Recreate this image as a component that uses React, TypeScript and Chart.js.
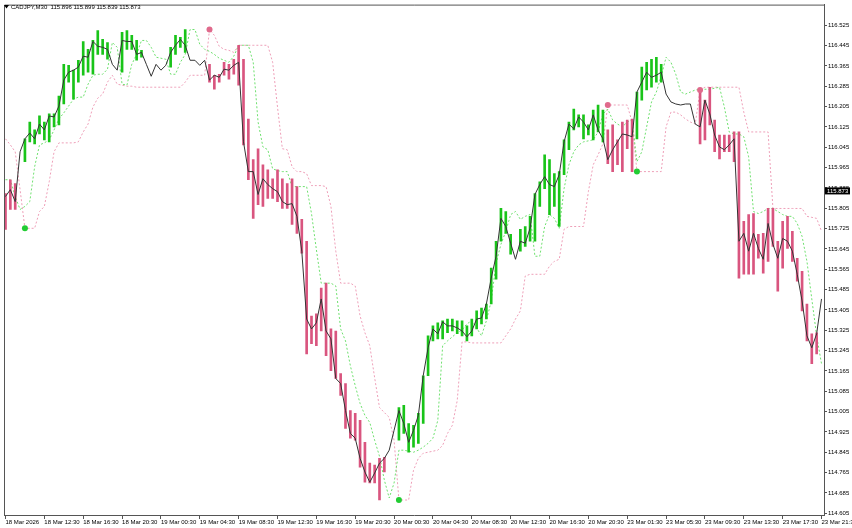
import React, { useEffect, useRef } from "react";
import { Chart, registerables } from "chart.js";

Chart.register(...registerables);

const symbolTitle = "CADJPY,M30";
const headerPrices = ["115.896", "115.899", "115.839", "115.873"];
const lastPrice = 115.873;

const xTickLabels = [
  "18 Mar 2026", "18 Mar 12:30", "18 Mar 16:30", "18 Mar 20:30", "19 Mar 00:30", "19 Mar 04:30",
  "19 Mar 08:30", "19 Mar 12:30", "19 Mar 16:30", "19 Mar 20:30", "20 Mar 00:30", "20 Mar 04:30",
  "20 Mar 08:30", "20 Mar 12:30", "20 Mar 16:30", "20 Mar 20:30", "23 Mar 01:30", "23 Mar 05:30",
  "23 Mar 09:30", "23 Mar 13:30", "23 Mar 17:30", "23 Mar 21:30",
];
const barsPerLabel = 8;

const yTicks = [
  114.605, 114.685, 114.765, 114.845, 114.925, 115.005, 115.085, 115.165, 115.245, 115.325,
  115.405, 115.485, 115.565, 115.645, 115.725, 115.805, 115.885, 115.965, 116.045, 116.125,
  116.205, 116.285, 116.365, 116.445, 116.525,
];

const closeValues = [
  115.851, 115.878, 115.831, 116.027, 116.078, 116.101, 116.078, 116.136, 116.113, 116.168,
  116.164, 116.207, 116.309, 116.340, 116.348, 116.360, 116.403, 116.399, 116.461, 116.442,
  116.438, 116.430, 116.371, 116.348, 116.465, 116.461, 116.461, 116.410, 116.418, 116.371,
  116.324, 116.371, 116.348, 116.367, 116.418, 116.446, 116.469, 116.446, 116.387, 116.387,
  116.367, 116.387, 116.309, 116.328, 116.320, 116.352, 116.348, 116.367, 116.379, 116.066,
  115.949, 115.949, 115.859, 115.921, 115.898, 115.882, 115.870, 115.831, 115.819, 115.823,
  115.773, 115.636, 115.369, 115.330, 115.354, 115.448, 115.322, 115.291, 115.135, 115.115,
  115.009, 114.919, 114.900, 114.821, 114.767, 114.727, 114.763, 114.802, 114.821, 114.853,
  114.931, 115.009, 114.958, 114.884, 114.931, 114.990, 115.146, 115.256, 115.330, 115.311,
  115.358, 115.342, 115.342, 115.334, 115.322, 115.299, 115.322, 115.369, 115.373, 115.428,
  115.530, 115.616, 115.765, 115.733, 115.667, 115.604, 115.675, 115.667, 115.726, 115.859,
  115.898, 115.929, 115.898, 115.890, 115.937, 116.066, 116.136, 116.117, 116.164, 116.144,
  116.113, 116.172, 116.113, 116.078, 115.996, 116.035, 116.066, 116.097, 116.093, 116.086,
  116.262, 116.301, 116.340, 116.320, 116.328, 116.340, 116.254, 116.223, 116.215, 116.211,
  116.215, 116.215, 116.136, 116.125, 116.230, 116.176, 116.093, 116.046, 116.035, 116.054,
  116.078, 115.675, 115.706, 115.636, 115.706, 115.647, 115.604, 115.745, 115.663, 115.608,
  115.686, 115.675, 115.636, 115.545, 115.440, 115.303, 115.256, 115.311, 115.448,
];

const highValues: (number | null)[] = [
  115.863, 115.917, 115.902, null, 116.078, 116.144, 116.113, 116.168, 116.144, 116.176,
  116.176, 116.246, 116.371, 116.367, 116.348, 116.387, 116.461, 116.430, 116.465, 116.504,
  116.469, 116.457, null, null, 116.497, 116.504, 116.485, 116.465, 116.426, null,
  null, null, null, null, 116.438, 116.485, 116.477, 116.508, null, null,
  null, null, 116.371, 116.328, 116.332, 116.379, 116.371, 116.391, 116.446, 116.391,
  116.156, 115.996, 116.039, 115.976, 115.956, 115.921, 115.956, 115.921, 115.902, 115.921,
  115.890, 115.761, 115.675, 115.381, 115.389, 115.491, 115.510, 115.330, 115.322, 115.154,
  115.115, 115.009, 114.998, 114.970, 114.884, 114.802, 114.794, 114.821, 114.825, null,
  null, 115.021, 115.029, 114.958, 114.951, 114.998, 115.146, 115.303, 115.342, 115.354,
  115.362, 115.369, 115.369, 115.362, 115.362, 115.342, 115.369, 115.401, 115.412, 115.428,
  115.569, 115.675, 115.804, 115.792, 115.702, null, 115.722, 115.733, 115.773, 115.863,
  115.909, 116.015, 115.996, 115.941, 115.949, 116.074, 116.144, 116.195, 116.172, 116.172,
  116.133, 116.191, 116.211, 116.191, 116.113, 116.133, 116.074, 116.144, 116.152, 116.156,
  116.262, 116.360, 116.379, 116.391, 116.399, 116.371, null, null, null, null,
  null, null, null, 116.270, 116.230, 116.281, 116.152, 116.093, 116.093, 116.093,
  116.105, 116.105, 115.753, 115.780, 115.784, 115.702, 115.706, 115.804, 115.804, 115.675,
  115.753, 115.773, 115.714, 115.608, 115.557, 115.428, 115.311, 115.315, null,
];

const lowValues: (number | null)[] = [
  115.722, 115.800, 115.800, null, 115.988, 116.066, 116.058, 116.097, 116.074, 116.066,
  116.125, 116.133, 116.215, 116.301, 116.234, 116.301, 116.328, 116.340, 116.332, 116.410,
  116.410, 116.391, null, null, 116.340, 116.430, 116.430, 116.387, 116.399, null,
  null, null, null, null, 116.360, 116.410, 116.438, 116.418, null, null,
  null, null, 116.301, 116.273, 116.301, 116.328, 116.313, 116.332, 116.289, 116.054,
  115.917, 115.765, 115.819, 115.812, 115.843, 115.843, 115.831, 115.804, 115.804, 115.741,
  115.706, 115.628, 115.232, 115.272, 115.264, 115.322, 115.225, 115.166, 115.135, 115.068,
  114.939, 114.900, 114.892, 114.786, 114.727, 114.724, 114.724, 114.657, 114.767, null,
  null, 114.892, 114.919, 114.845, 114.865, 114.880, 114.958, 115.146, 115.283, 115.291,
  115.291, 115.315, 115.322, 115.311, 115.303, 115.283, 115.303, 115.330, 115.350, 115.369,
  115.428, 115.526, 115.675, 115.706, 115.624, null, 115.636, 115.655, 115.675, 115.675,
  115.812, 115.882, 115.780, 115.812, 115.733, 115.937, 116.035, 116.113, 116.125, 116.078,
  116.093, 116.074, 116.105, 116.066, 115.980, 115.949, 115.976, 115.949, 116.039, 115.949,
  116.078, 116.230, 116.270, 116.281, 116.301, 116.301, null, null, null, null,
  null, null, null, 116.058, 116.074, 116.133, 116.027, 115.999, 116.027, 116.027,
  115.988, 115.530, 115.545, 115.545, 115.545, 115.608, 115.549, 115.596, 115.655, 115.479,
  115.569, 115.647, 115.596, 115.518, 115.401, 115.283, 115.193, 115.232, null,
];

// inner (green dotted) trailing line
const fastLine = [
  115.917, 115.917, 115.851, 115.800, 115.812, 115.831, 115.968, 116.054, 116.062, 116.074,
  116.113, 116.156, 116.180, 116.207, 116.234, 116.242, 116.242, 116.293, 116.328, 116.332,
  116.332, 116.352, 116.457, 116.438, 116.293, 116.289, 116.371, 116.410, 116.465, 116.465,
  116.438, 116.399, 116.395, 116.391, 116.332, 116.332, 116.379, 116.410, 116.508, 116.508,
  116.450, 116.430, 116.422, 116.410, 116.395, 116.387, 116.379, 116.403, 116.446, 116.446,
  116.446, 116.379, 116.144, 116.046, 116.035, 115.960, 115.953, 115.949, 115.949, 115.890,
  115.890, 115.890, 115.890, 115.784, 115.643, 115.510, 115.510, 115.510, 115.499, 115.330,
  115.283, 115.185, 115.107, 115.037, 114.990, 114.962, 114.892, 114.829, 114.735, 114.665,
  114.724, 114.853, 114.853, 114.849, 114.845, 114.853, 114.865, 114.880, 114.900, 114.970,
  115.264, 115.283, 115.299, 115.315, 115.326, 115.350, 115.362, 115.334, 115.303, 115.362,
  115.440, 115.589, 115.663, 115.714, 115.780, 115.792, 115.761, 115.773, 115.780, 115.616,
  115.616, 115.733, 115.780, 115.765, 115.726, 115.882, 115.976, 116.027, 116.054, 116.066,
  116.070, 116.074, 116.105, 116.176, 116.195, 116.152, 116.136, 116.125, 116.144, 116.152,
  115.988, 116.027, 116.125, 116.223, 116.262, 116.324, 116.399, 116.379, 116.332, 116.262,
  116.254, 116.262, 116.270, 116.273, 116.273, 116.273, 116.277, 116.281, 116.203, 116.105,
  116.097, 116.097, 116.086, 116.007, 115.792, 115.784, 115.792, 115.804, 115.804, 115.792,
  115.780, 115.773, 115.773, 115.745, 115.694, 115.596, 115.448, 115.303, 115.193,
];

// outer (pink dotted) trailing line
const slowLine = [
  116.078, 116.054, 116.027, 115.878, 115.726, 115.726, 115.726, 115.792, 115.812, 115.909,
  116.027, 116.062, 116.062, 116.062, 116.062, 116.066, 116.105, 116.136, 116.203, 116.238,
  116.254, 116.301, 116.328, 116.293, 116.289, 116.285, 116.285, 116.281, 116.281, 116.281,
  116.281, 116.281, 116.281, 116.281, 116.281, 116.281, 116.281, 116.301, 116.328, 116.328,
  116.328, 116.328, 116.508, 116.485, 116.442, 116.430, 116.426, 116.418, 116.446, 116.446,
  116.446, 116.446, 116.446, 116.446, 116.446, 116.379, 116.203, 116.039, 116.035, 115.968,
  115.949, 115.949, 115.941, 115.894, 115.894, 115.894, 115.890, 115.812, 115.636, 115.510,
  115.510, 115.510, 115.499, 115.381, 115.315, 115.264, 115.138, 115.021, 115.001, 114.982,
  114.892, 114.657, 114.657, 114.657, 114.774, 114.821, 114.841, 114.845, 114.849, 114.853,
  114.872, 114.919, 114.951, 115.048, 115.279, 115.279, 115.275, 115.275, 115.275, 115.275,
  115.275, 115.275, 115.275, 115.303, 115.330, 115.369, 115.401, 115.538, 115.545, 115.545,
  115.545, 115.545, 115.577, 115.596, 115.604, 115.722, 115.733, 115.733, 115.733, 115.733,
  115.870, 115.976, 116.015, 116.058, 116.211, 116.211, 116.211, 116.211, 116.211, 116.144,
  115.949, 115.949, 115.949, 115.949, 115.949, 115.949, 116.125, 116.183, 116.183, 116.172,
  116.156, 116.144, 116.136, 116.270, 116.281, 116.281, 116.281, 116.281, 116.281, 116.281,
  116.281, 116.281, 116.183, 116.105, 116.105, 116.105, 116.105, 116.105, 115.804, 115.804,
  115.804, 115.804, 115.804, 115.804, 115.804, 115.773, 115.769, 115.765, 115.714,
];

// bar indices where the trend flips
const upSignals = [4, 81, 130];
const downSignals = [42, 124, 143];

const GREEN_BAR = "#19c419";
const PINK_BAR = "#d9557f";
const GREEN_DOT_LINE = "#6ee06e";
const PINK_DOT_LINE = "#ee9fb8";
const CLOSE_LINE = "#333333";
const FONT = "'Liberation Sans', Arial, sans-serif";

export default function App() {
  const ref = useRef<HTMLCanvasElement>(null);

  useEffect(() => {
    document.body.style.margin = "0";
    const canvas = ref.current;
    if (!canvas) return;

    const n = closeValues.length;
    const idx = closeValues.map((_, i) => i);
    const trend: number[] = [];
    let t = -1;
    for (let i = 0; i < n; i++) {
      if (upSignals.includes(i)) t = 1;
      if (downSignals.includes(i)) t = -1;
      trend.push(t);
    }
    const barIdx = idx.filter((i) => highValues[i] != null && lowValues[i] != null);
    const barData = barIdx.map((i) => ({ x: i, y: [lowValues[i] as number, highValues[i] as number] }));
    const barColors = barIdx.map((i) => (trend[i] > 0 ? GREEN_BAR : PINK_BAR));

    const overlay = {
      id: "overlay",
      afterDraw(chart: any) {
        const { ctx, chartArea: a, scales } = chart;
        ctx.save();
        ctx.strokeStyle = "#555";
        ctx.lineWidth = 1;
        ctx.beginPath();
        ctx.moveTo(a.left + 0.5, a.bottom);
        ctx.lineTo(a.left + 0.5, a.top + 0.5);
        ctx.lineTo(a.right, a.top + 0.5);
        ctx.stroke();
        ctx.fillStyle = "#000";
        ctx.beginPath();
        ctx.moveTo(4, 5);
        ctx.lineTo(9, 5);
        ctx.lineTo(6.5, 8.5);
        ctx.closePath();
        ctx.fill();
        ctx.font = `6px ${FONT}`;
        ctx.textBaseline = "middle";
        ctx.textAlign = "left";
        ctx.fillText(`${symbolTitle}  ${headerPrices.join(" ")}`, 11, 7);
        const py = scales.y.getPixelForValue(lastPrice);
        ctx.fillStyle = "#000";
        ctx.fillRect(a.right + 1, py - 3.5, 25, 7);
        ctx.fillStyle = "#fff";
        ctx.fillText(lastPrice.toFixed(3), a.right + 3, py + 0.5);
        ctx.restore();
      },
    };

    const chart = new Chart(canvas, {
      type: "bar",
      data: {
        datasets: [
          {
            type: "line",
            data: idx.map((i) => ({ x: i, y: slowLine[i] })),
            borderColor: PINK_DOT_LINE,
            borderWidth: 1,
            borderDash: [2, 2],
            pointRadius: 0,
            tension: 0,
            order: 6,
          } as any,
          {
            type: "line",
            data: idx.map((i) => ({ x: i, y: fastLine[i] })),
            borderColor: GREEN_DOT_LINE,
            borderWidth: 1,
            borderDash: [2, 2],
            pointRadius: 0,
            tension: 0,
            order: 5,
          } as any,
          {
            type: "bar",
            data: barData,
            backgroundColor: barColors,
            borderWidth: 0,
            barThickness: 2,
            order: 4,
          } as any,
          {
            type: "line",
            data: idx.map((i) => ({ x: i, y: closeValues[i] })),
            borderColor: CLOSE_LINE,
            borderWidth: 1,
            pointRadius: 0,
            tension: 0,
            order: 3,
          } as any,
          {
            type: "line",
            data: upSignals.map((i) => ({ x: i, y: slowLine[i] })),
            showLine: false,
            pointRadius: 3,
            pointBorderWidth: 0,
            pointBackgroundColor: "#22cc33",
            order: 2,
          } as any,
          {
            type: "line",
            data: downSignals.map((i) => ({ x: i, y: slowLine[i] })),
            showLine: false,
            pointRadius: 3,
            pointBorderWidth: 0,
            pointBackgroundColor: "#e06a8c",
            order: 1,
          } as any,
        ],
      },
      options: {
        animation: false,
        responsive: false,
        devicePixelRatio: 1,
        layout: { padding: { left: 1, top: 2, right: 0, bottom: 0 } },
        plugins: { legend: { display: false }, tooltip: { enabled: false } },
        scales: {
          x: {
            type: "linear",
            min: -0.308,
            max: 168.513,
            offset: false,
            afterBuildTicks: (s: any) => {
              s.ticks = xTickLabels.map((_, k) => ({ value: k * barsPerLabel }));
            },
            afterFit: (s: any) => {
              s.height = 13;
              s.paddingLeft = 0;
              s.paddingRight = 0;
            },
            grid: { drawOnChartArea: false, drawTicks: true, tickLength: 4, color: "#555", offset: false },
            border: { display: true, color: "#555" },
            ticks: {
              autoSkip: false,
              maxRotation: 0,
              minRotation: 0,
              align: "start",
              padding: 0,
              color: "#000",
              font: { family: FONT, size: 6 },
              callback: (v: any) => xTickLabels[Math.round(Number(v) / barsPerLabel)] ?? "",
            },
          },
          y: {
            type: "linear",
            position: "right",
            min: 114.598,
            max: 116.606,
            afterBuildTicks: (s: any) => {
              s.ticks = yTicks.map((v) => ({ value: v }));
            },
            afterFit: (s: any) => {
              s.width = 28;
            },
            grid: { drawOnChartArea: false, drawTicks: true, tickLength: 3, color: "#555" },
            border: { display: true, color: "#555" },
            ticks: {
              padding: 1,
              color: "#000",
              font: { family: FONT, size: 6 },
              callback: (v: any) => Number(v).toFixed(3),
            },
          },
        },
      } as any,
      plugins: [overlay],
    });

    return () => chart.destroy();
  }, []);

  return (
    <div style={{ width: 852, height: 528, background: "#fff" }}>
      <canvas ref={ref} width={852} height={528} style={{ display: "block" }} />
    </div>
  );
}
